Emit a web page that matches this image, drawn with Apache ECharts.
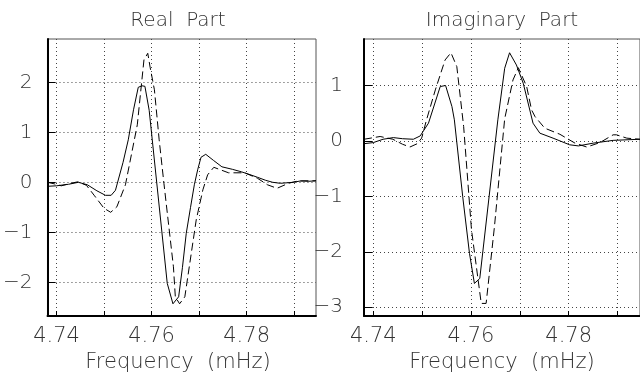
<!DOCTYPE html>
<html>
<head>
<meta charset="utf-8">
<script src="https://cdn.jsdelivr.net/npm/echarts@6/dist/echarts.min.js"></script>
<style>html,body{margin:0;padding:0;background:#fff;}#c{width:640px;height:379px;}</style>
</head>
<body>
<div id="c"></div>
<script>
// ---- data ----
const xTicks = [4.74, 4.75, 4.76, 4.77, 4.78, 4.79];
const xTickLabels = [4.74, 4.76, 4.78];
const realTicks = [-2, -1, 0, 1, 2];
const imagTicks = [-3, -2, -1, 0, 1];

const realSolidF = [4.7381,4.7400,4.7425,4.7446,4.7465,4.7485,4.7503,4.7515,4.7524,4.7540,4.7551,4.7562,4.7572,4.7580,4.7586,4.7595,4.7633,4.7645,4.7657,4.7665,4.7673,4.7682,4.7690,4.7697,4.7704,4.7714,4.7730,4.7748,4.7770,4.7789,4.7805,4.7823,4.7840,4.7855,4.7871,4.7898,4.7915,4.7930,4.7946];
const realSolidV = [-0.08,-0.07,-0.04,0.00,-0.05,-0.17,-0.26,-0.26,-0.16,0.40,0.85,1.45,1.90,1.93,1.92,1.44,-2.02,-2.43,-2.29,-1.70,-1.02,-0.50,-0.05,0.25,0.50,0.56,0.44,0.31,0.26,0.21,0.16,0.10,0.04,0.00,-0.02,0.00,0.03,0.02,0.03];

const realDashF = [4.7381,4.7395,4.7410,4.7430,4.7445,4.7463,4.7480,4.7500,4.7514,4.7527,4.7545,4.7570,4.7584,4.7592,4.7597,4.7606,4.7616,4.7626,4.7646,4.7650,4.7659,4.7670,4.7694,4.7708,4.7718,4.7731,4.7745,4.7762,4.7796,4.7823,4.7844,4.7864,4.7888,4.7905,4.7925,4.7946];
const realDashV = [0.00,-0.03,-0.07,-0.02,0.01,-0.06,-0.27,-0.52,-0.60,-0.49,-0.05,1.15,2.45,2.58,2.30,1.85,0.85,-0.02,-1.69,-2.29,-2.43,-2.29,-0.75,-0.15,0.15,0.30,0.25,0.19,0.19,0.08,-0.05,-0.12,-0.02,0.02,0.03,0.03];

const imagSolidF = [4.7381,4.7400,4.7420,4.7441,4.7460,4.7482,4.7496,4.7513,4.7537,4.7541,4.7548,4.7561,4.7566,4.7583,4.7597,4.7607,4.7618,4.7621,4.7655,4.7669,4.7679,4.7693,4.7707,4.7727,4.7741,4.7768,4.7802,4.7820,4.7850,4.7891,4.7946];
const imagSolidV = [-0.05,-0.03,0.03,0.06,0.04,0.03,0.09,0.32,0.98,1.01,1.00,0.62,0.38,-1.00,-2.03,-2.57,-2.48,-2.45,0.38,1.31,1.59,1.37,1.04,0.32,0.14,0.05,-0.07,-0.09,-0.04,0.01,0.03];

const imagDashF = [4.7381,4.7414,4.7440,4.7460,4.7475,4.7490,4.7499,4.7509,4.7527,4.7547,4.7559,4.7571,4.7585,4.7601,4.7621,4.7631,4.7648,4.7669,4.7686,4.7697,4.7714,4.7724,4.7731,4.7751,4.7782,4.7813,4.7837,4.7864,4.7891,4.7898,4.7919,4.7946];
const imagDashV = [0.03,0.08,0.03,-0.06,-0.11,-0.05,0.05,0.38,0.92,1.46,1.59,1.34,0.26,-1.60,-2.93,-2.93,-1.55,0.40,1.10,1.32,0.98,0.56,0.44,0.23,0.12,-0.04,-0.11,-0.03,0.11,0.11,0.05,0.03];

const titles = ['Real  Part', 'Imaginary  Part'];
const xName = 'Frequency  (mHz)';

// ---- build ----
const zip = (a, b) => a.map((v, i) => [v, b[i]]);
const FONT = '"DejaVu Sans"';
const WEIGHT = 200;
const TXT = '#333';
const fmtY = v => (v < 0 ? '\u2212' + Math.abs(v) : String(v));

function xAxisFor(gi) {
  return {
    type: 'value', gridIndex: gi, min: 4.7381, max: 4.7946,
    axisLine: { show: true, onZero: false, lineStyle: { color: '#000', width: 2 } },
    axisTick: { show: true, inside: true, length: 5, customValues: xTicks, lineStyle: { color: '#000', width: 1 } },
    axisLabel: { customValues: xTickLabels, formatter: v => v.toFixed(2), fontFamily: FONT, fontWeight: WEIGHT, fontSize: 21, color: TXT, margin: 10 },
    splitLine: { show: true, lineStyle: { color: '#444', width: 1, type: [1, 3] } }
  };
}
function yAxisFor(gi, min, max, ticks, margin) {
  return {
    type: 'value', gridIndex: gi, min: min, max: max,
    axisLine: { show: true, onZero: false, lineStyle: { color: '#000', width: 2 } },
    axisTick: { show: true, inside: true, length: 8, customValues: ticks, lineStyle: { color: '#000', width: 1 } },
    axisLabel: { customValues: ticks, formatter: fmtY, fontFamily: FONT, fontWeight: WEIGHT, fontSize: 20, color: TXT, margin: margin },
    splitLine: { show: true, lineStyle: { color: '#444', width: 1, type: [1, 3] } }
  };
}
function line(data, gi, dashed) {
  return {
    type: 'line', xAxisIndex: gi, yAxisIndex: gi, data: data, showSymbol: false, symbol: 'none',
    lineStyle: { color: '#000', width: 1, type: dashed ? [8, 4] : 'solid' }, silent: true, animation: false
  };
}
function label(text, x, y, size) {
  return { type: 'text', x: x, y: y, style: { text: text, fontFamily: FONT, fontWeight: WEIGHT, fontSize: size, fill: TXT, textAlign: 'center', textVerticalAlign: 'middle' } };
}

const chart = echarts.init(document.getElementById('c'), null, { renderer: 'canvas' });
chart.setOption({
  backgroundColor: '#fff',
  animation: false,
  grid: [
    { left: 40, top: 39, width: 276, height: 277, show: true, borderColor: '#555', borderWidth: 1 },
    { left: 364, top: 39, width: 277, height: 277, show: true, borderColor: '#555', borderWidth: 1 }
  ],
  xAxis: [xAxisFor(0), xAxisFor(1)],
  yAxis: [yAxisFor(0, -2.674, 2.866, realTicks, 15), yAxisFor(1, -3.157, 1.838, imagTicks, 21)],
  series: [
    line(zip(realSolidF, realSolidV), 0, false),
    line(zip(realDashF, realDashV), 0, true),
    line(zip(imagSolidF, imagSolidV), 1, false),
    line(zip(imagDashF, imagDashV), 1, true)
  ],
  graphic: [
    label(titles[0], 178, 21, 20),
    label(titles[1], 502, 21, 20),
    label(xName, 178, 363, 21),
    label(xName, 502, 363, 21)
  ]
});
</script>
</body>
</html>
